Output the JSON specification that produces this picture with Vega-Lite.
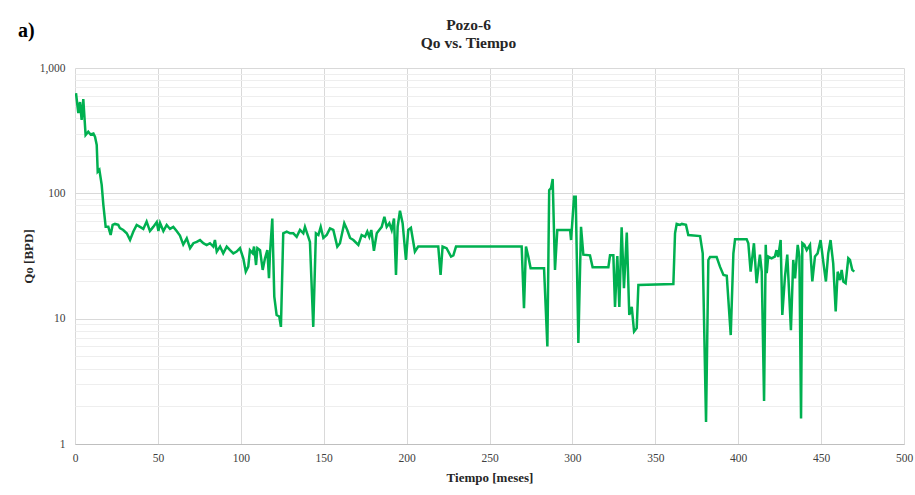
{
  "$schema": "https://vega.github.io/schema/vega-lite/v6.json",
  "width": 829,
  "height": 376,
  "autosize": "none",
  "padding": {"left": 75, "top": 68, "right": 11, "bottom": 51},
  "background": "white",
  "title": {
    "text": ["Pozo-6", "Qo vs. Tiempo"],
    "font": "Liberation Serif",
    "fontSize": 15.5,
    "fontWeight": "bold",
    "color": "#262626",
    "anchor": "middle",
    "baseline": "bottom",
    "dx": -21,
    "offset": -45,
    "lineHeight": 18
  },
  "config": {"view": {"stroke": null}, "font": "Liberation Serif"},
  "layer": [
    {
      "data": {
        "values": [
          {"mes": 0.6, "qo": 630}, {"mes": 2.0, "qo": 437}, {"mes": 3.0, "qo": 535}, {"mes": 4.0, "qo": 385},
          {"mes": 5.0, "qo": 565}, {"mes": 6.4, "qo": 292}, {"mes": 8.0, "qo": 310}, {"mes": 9.4, "qo": 295},
          {"mes": 11.1, "qo": 300}, {"mes": 12.1, "qo": 282}, {"mes": 13.1, "qo": 243}, {"mes": 13.7, "qo": 149},
          {"mes": 14.7, "qo": 154}, {"mes": 16.1, "qo": 117}, {"mes": 17.1, "qo": 81}, {"mes": 18.5, "qo": 54},
          {"mes": 20.1, "qo": 54}, {"mes": 21.5, "qo": 46.5}, {"mes": 22.7, "qo": 56}, {"mes": 24.1, "qo": 57},
          {"mes": 26.1, "qo": 56}, {"mes": 27.1, "qo": 52.7}, {"mes": 29.1, "qo": 51}, {"mes": 31.2, "qo": 48},
          {"mes": 33.2, "qo": 42.5}, {"mes": 35.2, "qo": 49.6}, {"mes": 37.2, "qo": 56}, {"mes": 39.2, "qo": 54},
          {"mes": 41.2, "qo": 52}, {"mes": 43.2, "qo": 59.5}, {"mes": 45.2, "qo": 50}, {"mes": 47.2, "qo": 54},
          {"mes": 49.3, "qo": 59}, {"mes": 50.3, "qo": 50}, {"mes": 51.3, "qo": 58}, {"mes": 53.3, "qo": 50},
          {"mes": 55.3, "qo": 56}, {"mes": 57.3, "qo": 52}, {"mes": 59.3, "qo": 54}, {"mes": 61.3, "qo": 50},
          {"mes": 63.3, "qo": 46}, {"mes": 65.3, "qo": 39}, {"mes": 67.4, "qo": 43.8}, {"mes": 69.4, "qo": 36.5},
          {"mes": 71.4, "qo": 40}, {"mes": 73.4, "qo": 41}, {"mes": 75.4, "qo": 42.4}, {"mes": 77.4, "qo": 40},
          {"mes": 79.4, "qo": 38.7}, {"mes": 81.4, "qo": 40}, {"mes": 83.4, "qo": 37.6}, {"mes": 84.4, "qo": 42.4},
          {"mes": 85.5, "qo": 34.3}, {"mes": 87.5, "qo": 37.6}, {"mes": 89.4, "qo": 33.2}, {"mes": 91.5, "qo": 37.6},
          {"mes": 93.5, "qo": 35.2}, {"mes": 95.5, "qo": 33.2}, {"mes": 97.5, "qo": 34.3}, {"mes": 99.5, "qo": 36.5},
          {"mes": 101.5, "qo": 30.3}, {"mes": 103, "qo": 23.7}, {"mes": 104.5, "qo": 26}, {"mes": 105.5, "qo": 35.2},
          {"mes": 107.2, "qo": 33.2}, {"mes": 108, "qo": 37.6}, {"mes": 109.2, "qo": 26.8}, {"mes": 110, "qo": 36.5},
          {"mes": 111.6, "qo": 35.2}, {"mes": 113.2, "qo": 24.5}, {"mes": 114.6, "qo": 30.3}, {"mes": 116, "qo": 35.2},
          {"mes": 117, "qo": 21}, {"mes": 117.6, "qo": 33.2}, {"mes": 119, "qo": 63}, {"mes": 120.2, "qo": 15},
          {"mes": 121.6, "qo": 10.7}, {"mes": 123.2, "qo": 10.4}, {"mes": 124.2, "qo": 8.6}, {"mes": 125.6, "qo": 48},
          {"mes": 127.7, "qo": 49.5}, {"mes": 129.7, "qo": 48}, {"mes": 131.7, "qo": 48}, {"mes": 133.7, "qo": 45},
          {"mes": 135.7, "qo": 51}, {"mes": 137.7, "qo": 48}, {"mes": 138.7, "qo": 54}, {"mes": 140.7, "qo": 45},
          {"mes": 141.7, "qo": 41}, {"mes": 143.7, "qo": 8.6}, {"mes": 145.3, "qo": 48}, {"mes": 146.8, "qo": 46.5},
          {"mes": 148.2, "qo": 54}, {"mes": 149.8, "qo": 44}, {"mes": 151.8, "qo": 46.5}, {"mes": 153.8, "qo": 52.5},
          {"mes": 155.8, "qo": 51}, {"mes": 158.2, "qo": 37.6}, {"mes": 159.8, "qo": 40}, {"mes": 162.4, "qo": 57.8},
          {"mes": 164.2, "qo": 51}, {"mes": 165.9, "qo": 44}, {"mes": 167.9, "qo": 42.4}, {"mes": 170.9, "qo": 38.7},
          {"mes": 172.9, "qo": 46.5}, {"mes": 174.9, "qo": 45}, {"mes": 176.3, "qo": 49.5}, {"mes": 177.5, "qo": 45},
          {"mes": 178.7, "qo": 51}, {"mes": 180.3, "qo": 34.8}, {"mes": 182, "qo": 48}, {"mes": 183.5, "qo": 51},
          {"mes": 185, "qo": 54}, {"mes": 186.6, "qo": 65}, {"mes": 188, "qo": 54}, {"mes": 189.6, "qo": 57.8},
          {"mes": 191, "qo": 51}, {"mes": 192.4, "qo": 63}, {"mes": 193.6, "qo": 22.3}, {"mes": 194.6, "qo": 54},
          {"mes": 196, "qo": 72.6}, {"mes": 197.6, "qo": 57.8}, {"mes": 199.6, "qo": 29.4}, {"mes": 201, "qo": 51},
          {"mes": 202.6, "qo": 53}, {"mes": 205, "qo": 34.3}, {"mes": 207, "qo": 37.6}, {"mes": 219.1, "qo": 37.6},
          {"mes": 220.5, "qo": 22.3}, {"mes": 221.7, "qo": 37.6}, {"mes": 224.1, "qo": 36.5}, {"mes": 226.8, "qo": 31.3},
          {"mes": 228.2, "qo": 32}, {"mes": 229.8, "qo": 37.6}, {"mes": 269.4, "qo": 37.6}, {"mes": 270.8, "qo": 12.1},
          {"mes": 272, "qo": 37.6}, {"mes": 273.4, "qo": 31.3}, {"mes": 274.8, "qo": 25.2}, {"mes": 282.9, "qo": 25.2},
          {"mes": 284.9, "qo": 6}, {"mes": 286, "qo": 106}, {"mes": 287.1, "qo": 110}, {"mes": 288.1, "qo": 130},
          {"mes": 289.5, "qo": 24.5}, {"mes": 290.9, "qo": 51}, {"mes": 298.6, "qo": 51}, {"mes": 299.2, "qo": 42.4},
          {"mes": 301, "qo": 94}, {"mes": 302, "qo": 94}, {"mes": 303.6, "qo": 6.4}, {"mes": 305.2, "qo": 54},
          {"mes": 306.6, "qo": 32.4}, {"mes": 310.6, "qo": 32}, {"mes": 312.2, "qo": 25.7}, {"mes": 321.7, "qo": 25.7},
          {"mes": 322.7, "qo": 32}, {"mes": 324.7, "qo": 32}, {"mes": 325.7, "qo": 12.4}, {"mes": 327.1, "qo": 31.6},
          {"mes": 328.3, "qo": 12.4}, {"mes": 329.7, "qo": 53.6}, {"mes": 331.1, "qo": 17.5}, {"mes": 332.8, "qo": 48.6},
          {"mes": 334.3, "qo": 10.7}, {"mes": 335.8, "qo": 12.4}, {"mes": 337.2, "qo": 7.9}, {"mes": 338.8, "qo": 8.4},
          {"mes": 339.8, "qo": 18.6}, {"mes": 360.9, "qo": 18.9}, {"mes": 361.9, "qo": 48}, {"mes": 362.9, "qo": 57},
          {"mes": 364.9, "qo": 56}, {"mes": 366, "qo": 57}, {"mes": 368.5, "qo": 56}, {"mes": 369.9, "qo": 46.5},
          {"mes": 377, "qo": 45.6}, {"mes": 378.6, "qo": 33.2}, {"mes": 380.6, "qo": 1.5}, {"mes": 382, "qo": 29.4},
          {"mes": 383, "qo": 31}, {"mes": 387, "qo": 31}, {"mes": 389, "qo": 26}, {"mes": 391.1, "qo": 22.3},
          {"mes": 393.1, "qo": 22}, {"mes": 395.5, "qo": 7.4}, {"mes": 397.1, "qo": 33.2}, {"mes": 398.1, "qo": 43},
          {"mes": 405.1, "qo": 43}, {"mes": 406.1, "qo": 40}, {"mes": 407.5, "qo": 23.7}, {"mes": 409.5, "qo": 40},
          {"mes": 411.1, "qo": 19.2}, {"mes": 413.1, "qo": 32.4}, {"mes": 414.2, "qo": 23.7}, {"mes": 415.6, "qo": 2.2},
          {"mes": 416.6, "qo": 38.8}, {"mes": 417.2, "qo": 23.1}, {"mes": 418.1, "qo": 31.3}, {"mes": 420.1, "qo": 30.3},
          {"mes": 422.1, "qo": 31.3}, {"mes": 423.1, "qo": 35.2}, {"mes": 424.1, "qo": 31}, {"mes": 425.6, "qo": 42.4},
          {"mes": 426.6, "qo": 10.7}, {"mes": 428.2, "qo": 21.6}, {"mes": 429.6, "qo": 32.4}, {"mes": 431.8, "qo": 8.1},
          {"mes": 433.2, "qo": 29.4}, {"mes": 434.3, "qo": 21}, {"mes": 435.9, "qo": 38.8}, {"mes": 436.9, "qo": 31.3},
          {"mes": 437.9, "qo": 1.6}, {"mes": 438.7, "qo": 40}, {"mes": 439.9, "qo": 38.8}, {"mes": 441.3, "qo": 35.2},
          {"mes": 443.3, "qo": 38.8}, {"mes": 444.7, "qo": 19.8}, {"mes": 446.3, "qo": 31.3}, {"mes": 447.9, "qo": 33.2},
          {"mes": 449.7, "qo": 42.4}, {"mes": 451.3, "qo": 28.5}, {"mes": 452.9, "qo": 19.8}, {"mes": 454.3, "qo": 33.2},
          {"mes": 455.7, "qo": 42.4}, {"mes": 457.3, "qo": 27.6}, {"mes": 458.8, "qo": 11.4}, {"mes": 460, "qo": 23.7},
          {"mes": 461.4, "qo": 20.3}, {"mes": 462.4, "qo": 24.5}, {"mes": 463.4, "qo": 19.8}, {"mes": 464.8, "qo": 19.2},
          {"mes": 466.4, "qo": 30.3}, {"mes": 467.4, "qo": 29.4}, {"mes": 468.8, "qo": 24.5}, {"mes": 470, "qo": 23.7}
        ]
      },
      "mark": {"type": "line", "color": "#00b050", "strokeWidth": 2.5, "clip": true},
      "encoding": {
        "x": {
          "field": "mes",
          "type": "quantitative",
          "scale": {"domain": [0, 500], "nice": false},
          "axis": {
            "values": [0, 50, 100, 150, 200, 250, 300, 350, 400, 450, 500],
            "grid": true,
            "gridColor": "#d9d9d9",
            "ticks": false,
            "domainColor": "#bfbfbf",
            "labelFlush": false,
            "labelPadding": 8,
            "labelFont": "Liberation Serif",
            "labelFontSize": 11.5,
            "labelColor": "#404040",
            "title": "Tiempo [meses]",
            "titleFont": "Liberation Serif",
            "titleFontSize": 13,
            "titleFontWeight": "bold",
            "titleColor": "#262626",
            "titlePadding": 8
          }
        },
        "y": {
          "field": "qo",
          "type": "quantitative",
          "scale": {"type": "log", "domain": [1, 1000], "nice": false},
          "axis": {
            "values": [1, 2, 3, 4, 5, 6, 7, 8, 9, 10, 20, 30, 40, 50, 60, 70, 80, 90, 100, 200, 300, 400, 500, 600, 700, 800, 900, 1000],
            "labelExpr": "indexof([1, 10, 100, 1000], datum.value) >= 0 ? format(datum.value, ',') : ''",
            "labelOverlap": false,
            "grid": true,
            "gridColor": {"condition": {"test": "indexof([1, 10, 100, 1000], datum.value) >= 0", "value": "#d9d9d9"}, "value": "#eeeeee"},
            "ticks": false,
            "domain": false,
            "labelPadding": 10,
            "labelFont": "Liberation Serif",
            "labelFontSize": 11.5,
            "labelColor": "#404040",
            "title": "Qo [BPD]",
            "titleFont": "Liberation Serif",
            "titleFontSize": 13,
            "titleFontWeight": "bold",
            "titleColor": "#262626",
            "titlePadding": 4
          }
        }
      }
    },
    {
      "data": {"values": [{"label": "a)"}]},
      "mark": {"type": "text", "align": "left", "baseline": "alphabetic", "font": "Liberation Serif", "fontSize": 20, "fontWeight": "bold", "color": "#000000"},
      "encoding": {
        "text": {"field": "label"},
        "x": {"value": -57},
        "y": {"value": -31}
      }
    }
  ]
}
